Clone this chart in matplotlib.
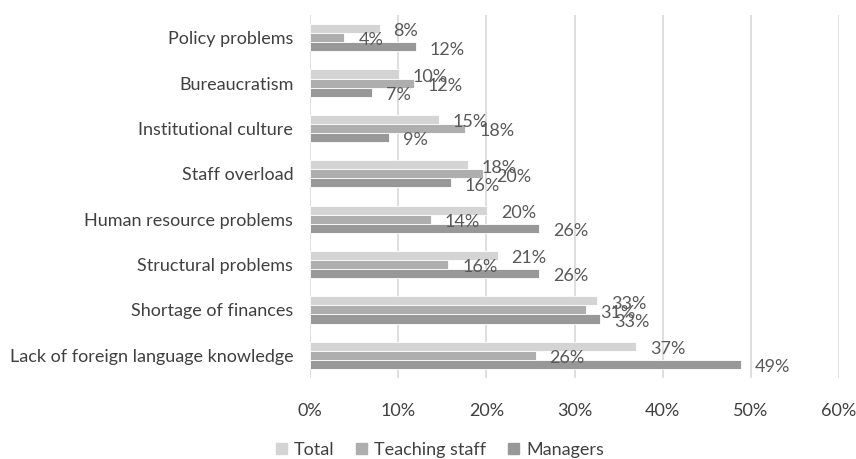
import numpy as np
import matplotlib.pyplot as plt
from matplotlib.patches import Patch

plt.rcParams['font.family'] = ['Lato', 'DejaVu Sans']

categories = ['Policy problems', 'Bureaucratism', 'Institutional culture', 'Staff overload',
              'Human resource problems', 'Structural problems', 'Shortage of finances',
              'Lack of foreign language knowledge']
total = [7.9, 10.1, 14.6, 17.9, 20.1, 21.3, 32.6, 37.0]
teaching = [3.9, 11.8, 17.6, 19.6, 13.7, 15.7, 31.3, 25.6]
managers = [12.0, 7.0, 9.0, 16.0, 26.0, 26.0, 32.9, 48.9]
xticks = [0, 10, 20, 30, 40, 50, 60]

series = [('Total', total, '#d4d4d4'),
          ('Teaching staff', teaching, '#aeaeae'),
          ('Managers', managers, '#989898')]

fig = plt.figure(figsize=(8.56, 4.59), dpi=100)
ax = fig.add_axes([310/856, 1 - 378/459, 529/856, 363/459])

n = len(categories)
y = np.arange(n)[::-1]
h = 0.2
for i, (name, vals, col) in enumerate(series):
    yy = y + h - i * h
    ax.barh(yy, vals, height=h, color=col, edgecolor='white', linewidth=0.6, zorder=2)
    for v, yv in zip(vals, yy):
        ax.annotate(f'{round(v):.0f}%', (v, yv), xytext=(10, -2), textcoords='offset points',
                    ha='left', va='center', fontsize=13, color='#595959')

ax.set_xlim(0, 60)
ax.set_ylim(-0.5, n - 0.5)
ax.set_xticks(xticks)
ax.set_xticklabels([f'{t}%' for t in xticks], fontsize=13, color='#404040')
ax.set_yticks(y)
ax.set_yticklabels(categories, fontsize=13, color='#404040')
ax.tick_params(length=0, pad=12)
ax.tick_params(axis='x', pad=18)
ax.xaxis.grid(True, color='#d9d9d9', linewidth=1.2, zorder=0)
for s in ax.spines.values():
    s.set_visible(False)

handles = [Patch(color=c, label=nm) for nm, _, c in series]
fig.legend(handles=handles, loc='center', bbox_to_anchor=(440/856, 1 - 450/459), ncol=3,
           frameon=False, fontsize=13, handlelength=0.6, handleheight=0.6,
           handletextpad=0.4, columnspacing=1.2, labelcolor='#404040')

fig.savefig('out.png', dpi=100)
